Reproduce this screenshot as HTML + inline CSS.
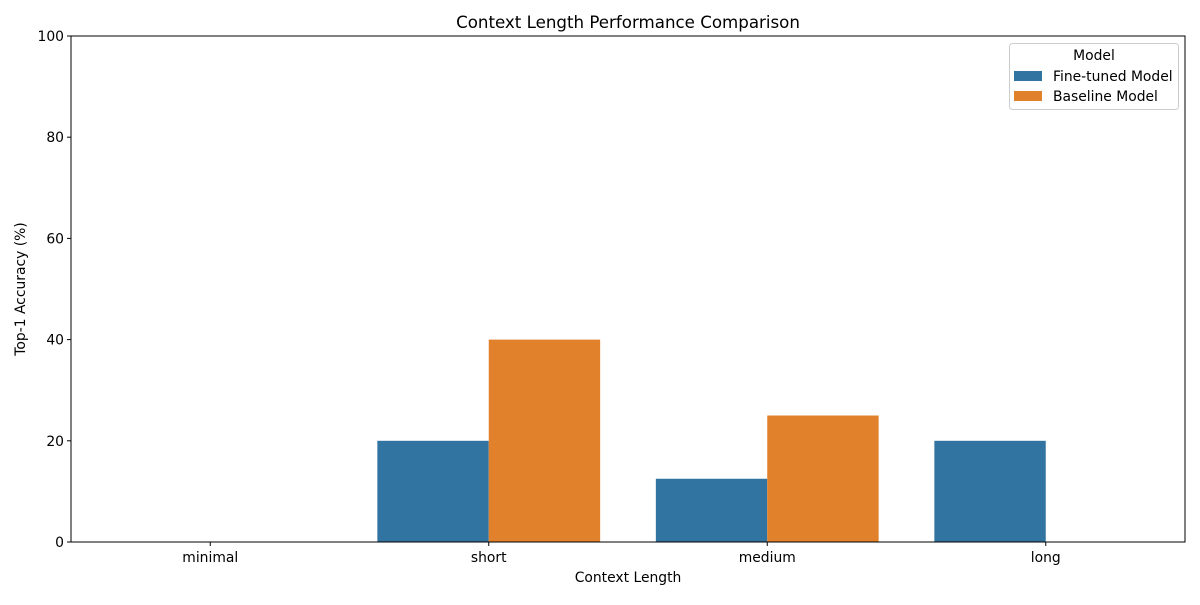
<!DOCTYPE html>
<html><head><meta charset="utf-8"><style>
body{margin:0;background:#fff;font-family:"Liberation Sans","DejaVu Sans",sans-serif}
</style></head><body>
<svg id="chart" width="1200" height="600" xmlns="http://www.w3.org/2000/svg" font-family="'DejaVu Sans','Liberation Sans',sans-serif"></svg>
<script>
const categories = ["minimal","short","medium","long"];
const fineTuned = [0, 20, 12.5, 20];
const baseline = [0, 40, 25, 0];
const yTicks = [0, 20, 40, 60, 80, 100];
const seriesNames = ["Fine-tuned Model","Baseline Model"];
const colors = ["#3274a1","#e1812c"];

const svg = document.getElementById('chart');
const NS = "http://www.w3.org/2000/svg";
const L=71, R=1185, T=36, B=542;
const FS=13.89;
function y(v){return B - (v/100)*(B-T);}
const band=(R-L)/categories.length;
function xc(i){return L+band*(i+0.5);}
function mk(tag, attrs, text){const e=document.createElementNS(NS,tag);for(const k in attrs)e.setAttribute(k,attrs[k]);if(text!==undefined)e.textContent=text;svg.appendChild(e);return e;}

const bw=band*0.4;
[fineTuned, baseline].forEach((s,si)=>{
  s.forEach((v,i)=>{
    const x0 = xc(i) + (si===0 ? -bw : 0);
    const r = mk('rect',{x:x0,y:y(v),width:bw,height:B-y(v),fill:colors[si]});
    
    
  });
});

yTicks.forEach(t=>{
  mk('line',{x1:L-4,x2:L,y1:y(t),y2:y(t),stroke:'#000','stroke-width':1});
  const tx = mk('text',{x:L-7,y:y(t)+5,'text-anchor':'end','font-size':FS,fill:'#000'},t);
  
  
});
categories.forEach((c,i)=>{
  mk('line',{x1:xc(i),x2:xc(i),y1:B,y2:B+4,stroke:'#000','stroke-width':1});
  const tx = mk('text',{x:xc(i),y:B+20,'text-anchor':'middle','font-size':FS,fill:'#000'},c);
  
  
});
const frame = mk('rect',{x:L,y:T,width:R-L,height:B-T,fill:'none',stroke:'#000','stroke-width':1});



const title = mk('text',{x:(L+R)/2,y:28,'text-anchor':'middle','font-size':16.67,fill:'#000'},'Context Length Performance Comparison');


const xt = mk('text',{x:(L+R)/2,y:582,'text-anchor':'middle','font-size':FS,fill:'#000'},'Context Length');


const yt = mk('text',{x:0,y:0,'text-anchor':'middle','font-size':FS,fill:'#000',transform:'translate(25,289) rotate(-90)'},'Top-1 Accuracy (%)');



const lg = mk('rect',{x:1009.5,y:43.5,width:169,height:66,rx:3,fill:'#fff',stroke:'#ccc','stroke-width':1});


const lt = mk('text',{x:1094,y:60,'text-anchor':'middle','font-size':FS,fill:'#000'},'Model');


seriesNames.forEach((n,i)=>{
  const yy = 71 + i*20;
  const p = mk('rect',{x:1014,y:yy,width:28,height:10,fill:colors[i]});
  
  
  const t = mk('text',{x:1053,y:yy+10,'font-size':FS,fill:'#000'},n);
  
  
});
</script>
</body></html>
